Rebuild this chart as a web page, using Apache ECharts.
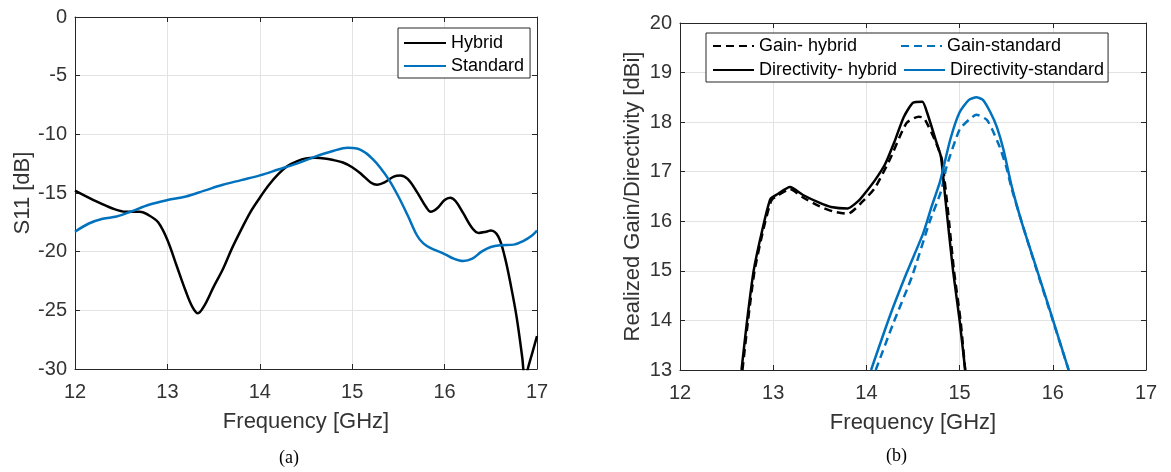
<!DOCTYPE html>
<html>
<head>
<meta charset="utf-8">
<script src="https://cdn.jsdelivr.net/npm/echarts@6/dist/echarts.min.js"></script>
<style>html,body{margin:0;padding:0;background:#fff;}#c{width:1171px;height:472px;}</style>
</head>
<body>
<div id="c"></div>
<script>
// ---- (a) S11 ----
const hybridFreq = [12.0,12.2,12.4,12.55,12.7,12.8,12.9,13.0,13.1,13.2,13.27,13.33,13.4,13.5,13.6,13.7,13.8,13.9,14.0,14.1,14.2,14.3,14.4,14.5,14.6,14.7,14.8,14.9,15.0,15.1,15.2,15.27,15.35,15.45,15.52,15.6,15.7,15.8,15.85,15.92,16.0,16.06,16.12,16.2,16.3,16.37,16.45,16.5,16.58,16.65,16.72,16.78,16.84,16.87,16.9,16.95,17.0];
const hybridS11  = [-14.8,-15.6,-16.3,-16.6,-16.6,-16.9,-17.5,-19.0,-21.2,-23.4,-24.7,-25.25,-24.6,-23.0,-21.5,-19.7,-18.1,-16.6,-15.4,-14.3,-13.4,-12.7,-12.3,-12.05,-12.0,-12.05,-12.2,-12.4,-12.8,-13.4,-14.1,-14.3,-14.1,-13.6,-13.5,-13.8,-14.9,-16.2,-16.6,-16.3,-15.6,-15.4,-15.7,-16.7,-18.0,-18.4,-18.3,-18.2,-18.7,-20.4,-23.0,-25.6,-29.0,-31.0,-30.0,-28.6,-27.2];
const standardFreq = [12.0,12.15,12.3,12.45,12.6,12.8,13.0,13.2,13.4,13.6,13.8,14.0,14.2,14.4,14.6,14.8,14.95,15.05,15.15,15.22,15.3,15.4,15.5,15.6,15.7,15.77,15.85,16.0,16.1,16.2,16.3,16.4,16.5,16.6,16.75,16.85,16.95,17.0];
const standardS11  = [-18.3,-17.6,-17.2,-17.0,-16.6,-16.0,-15.6,-15.3,-14.8,-14.3,-13.9,-13.5,-13.0,-12.5,-11.9,-11.4,-11.15,-11.2,-11.6,-12.1,-12.8,-13.9,-15.3,-16.9,-18.6,-19.3,-19.7,-20.2,-20.6,-20.8,-20.6,-20.0,-19.6,-19.45,-19.4,-19.1,-18.6,-18.2];

// ---- (b) Gain / Directivity ----
const dirHybridFreq = [12.66,12.72,12.79,12.88,12.97,13.05,13.18,13.32,13.5,13.62,13.8,13.92,14.0,14.1,14.2,14.3,14.4,14.5,14.6,14.65,14.75,14.8,14.85,14.93,15.0,15.06];
const dirHybrid     = [13.0,14.0,15.0,15.8,16.45,16.55,16.69,16.53,16.37,16.29,16.26,16.42,16.6,16.85,17.15,17.6,18.1,18.39,18.41,18.2,17.6,17.3,16.4,15.0,14.0,13.0];
const gainHybridFreq = [12.67,12.73,12.8,12.89,12.98,13.05,13.18,13.32,13.5,13.64,13.8,13.96,14.09,14.25,14.43,14.56,14.62,14.75,14.81,14.87,14.94,15.01,15.06];
const gainHybrid     = [13.0,14.0,15.0,15.8,16.42,16.52,16.65,16.48,16.3,16.2,16.15,16.4,16.67,17.24,17.98,18.11,18.08,17.57,17.24,16.3,15.0,14.0,13.0];
const dirStdFreq = [14.05,14.25,14.43,14.61,14.7,14.79,14.9,15.0,15.1,15.18,15.25,15.33,15.4,15.47,15.56,15.67,15.83,15.99,16.17];
const dirStd     = [13.0,14.08,14.95,15.76,16.3,16.8,17.65,18.2,18.45,18.5,18.45,18.2,17.9,17.45,16.7,15.96,15.02,14.08,13.0];
const gainStdFreq = [14.1,14.29,14.49,14.68,14.8,14.86,15.0,15.1,15.18,15.29,15.35,15.43,15.5,15.56,15.67,15.83,15.99,16.17];
const gainStd     = [13.0,13.95,14.89,16.0,16.6,17.1,17.85,18.05,18.15,18.05,17.85,17.5,17.1,16.65,15.96,15.0,14.06,13.0];

const zip = (a,b) => a.map((v,i)=>[v,b[i]]);
const FONT = 'Liberation Sans, Arial, sans-serif';
const AX = '#262626';
const LBL = '#333333';
const BLUE = '#0072BD';

function mainX(gi, name){
  return {type:'value', gridIndex:gi, min:12, max:17, interval:1, position:'bottom',
    name:name, nameLocation:'middle', nameGap:42,
    nameTextStyle:{fontFamily:FONT, fontSize:22, color:LBL},
    axisLine:{show:true, onZero:false, lineStyle:{color:AX, width:1}},
    axisTick:{show:true, inside:true, length:5, lineStyle:{color:AX}},
    axisLabel:{fontFamily:FONT, fontSize:20, color:LBL, margin:13},
    splitLine:{show:true, lineStyle:{color:'#e3e3e3', width:1}}};
}
function topX(gi){
  return {type:'value', gridIndex:gi, min:12, max:17, interval:1, position:'top',
    axisLine:{show:true, onZero:false, lineStyle:{color:AX, width:1}},
    axisTick:{show:true, inside:true, length:5, lineStyle:{color:AX}},
    axisLabel:{show:false}, splitLine:{show:false}};
}
function mainY(gi, min, max, interval, name, gap){
  return {type:'value', gridIndex:gi, min:min, max:max, interval:interval, position:'left',
    name:name, nameLocation:'middle', nameGap:gap, nameRotate:90,
    nameTextStyle:{fontFamily:FONT, fontSize:22, color:LBL},
    axisLine:{show:true, onZero:false, lineStyle:{color:AX, width:1}},
    axisTick:{show:true, inside:true, length:5, lineStyle:{color:AX}},
    axisLabel:{fontFamily:FONT, fontSize:20, color:LBL, margin:8},
    splitLine:{show:true, lineStyle:{color:'#e3e3e3', width:1}}};
}
function rightY(gi, min, max, interval){
  return {type:'value', gridIndex:gi, min:min, max:max, interval:interval, position:'right',
    axisLine:{show:true, onZero:false, lineStyle:{color:AX, width:1}},
    axisTick:{show:true, inside:true, length:5, lineStyle:{color:AX}},
    axisLabel:{show:false}, splitLine:{show:false}};
}

const chart = echarts.init(document.getElementById('c'), null, {renderer:'canvas'});
chart.setOption({
  animation:false,
  backgroundColor:'#fff',
  title:[
    {text:'(a)', left:279, top:449, padding:0, textStyle:{fontFamily:'Liberation Serif, Times New Roman, serif', fontSize:18, fontWeight:'normal', color:'#000'}},
    {text:'(b)', left:886, top:447, padding:0, textStyle:{fontFamily:'Liberation Serif, Times New Roman, serif', fontSize:18, fontWeight:'normal', color:'#000'}}
  ],
  grid:[
    {left:75, right:634, top:17, bottom:103},
    {left:680, right:25, top:23, bottom:102}
  ],
  xAxis:[mainX(0,'Frequency [GHz]'), topX(0), mainX(1,'Frequency [GHz]'), topX(1)],
  yAxis:[mainY(0,-30,0,5,'S11 [dB]',41), rightY(0,-30,0,5), mainY(1,13,20,1,'Realized Gain/Directivity [dBi]',36), rightY(1,13,20,1)],
  legend:[
    {data:['Hybrid','Standard'], orient:'vertical', left:398, top:28, itemWidth:42, itemHeight:14, itemGap:5,
     padding:[6,6,3,5], borderColor:AX, borderWidth:1, backgroundColor:'#fff',
     itemStyle:{opacity:0},
     textStyle:{fontFamily:FONT, fontSize:18, lineHeight:18, color:'#000'}},
    {data:['Gain- hybrid','Gain-standard','Directivity- hybrid','Directivity-standard'], orient:'horizontal',
     left:706, top:33, width:400, itemWidth:41, itemHeight:14, itemGap:6,
     padding:[4,4,3,6], borderColor:AX, borderWidth:1, backgroundColor:'#fff',
     itemStyle:{opacity:0},
     formatter: n => (n.indexOf('standard') >= 0 ? '{b|' : '{a|') + n + '}',
     textStyle:{fontFamily:FONT, fontSize:18, lineHeight:18, color:'#000',
       rich:{a:{width:135, fontFamily:FONT, fontSize:18, lineHeight:18, color:'#000'},
             b:{width:150, fontFamily:FONT, fontSize:18, lineHeight:18, color:'#000'}}}}
  ],
  series:[
    {name:'Hybrid', type:'line', xAxisIndex:0, yAxisIndex:0, data:zip(hybridFreq,hybridS11), smooth:0.35, showSymbol:false, symbol:'none',
     lineStyle:{color:'#000', width:2.5}, itemStyle:{color:'#000'}},
    {name:'Standard', type:'line', xAxisIndex:0, yAxisIndex:0, data:zip(standardFreq,standardS11), smooth:0.35, showSymbol:false, symbol:'none',
     lineStyle:{color:BLUE, width:2.5}, itemStyle:{color:BLUE}},
    {name:'Gain- hybrid', type:'line', xAxisIndex:2, yAxisIndex:2, data:zip(gainHybridFreq,gainHybrid), smooth:0.2, symbol:'none',
     lineStyle:{color:'#000', width:2.5, type:[8,5]}, itemStyle:{color:'#000'}},
    {name:'Gain-standard', type:'line', xAxisIndex:2, yAxisIndex:2, data:zip(gainStdFreq,gainStd), smooth:0.2, symbol:'none',
     lineStyle:{color:BLUE, width:2.5, type:[8,5]}, itemStyle:{color:BLUE}},
    {name:'Directivity- hybrid', type:'line', xAxisIndex:2, yAxisIndex:2, data:zip(dirHybridFreq,dirHybrid), smooth:0.2, symbol:'none',
     lineStyle:{color:'#000', width:2.5}, itemStyle:{color:'#000'}},
    {name:'Directivity-standard', type:'line', xAxisIndex:2, yAxisIndex:2, data:zip(dirStdFreq,dirStd), smooth:0.2, symbol:'none',
     lineStyle:{color:BLUE, width:2.5}, itemStyle:{color:BLUE}}
  ]
});
</script>
</body>
</html>
